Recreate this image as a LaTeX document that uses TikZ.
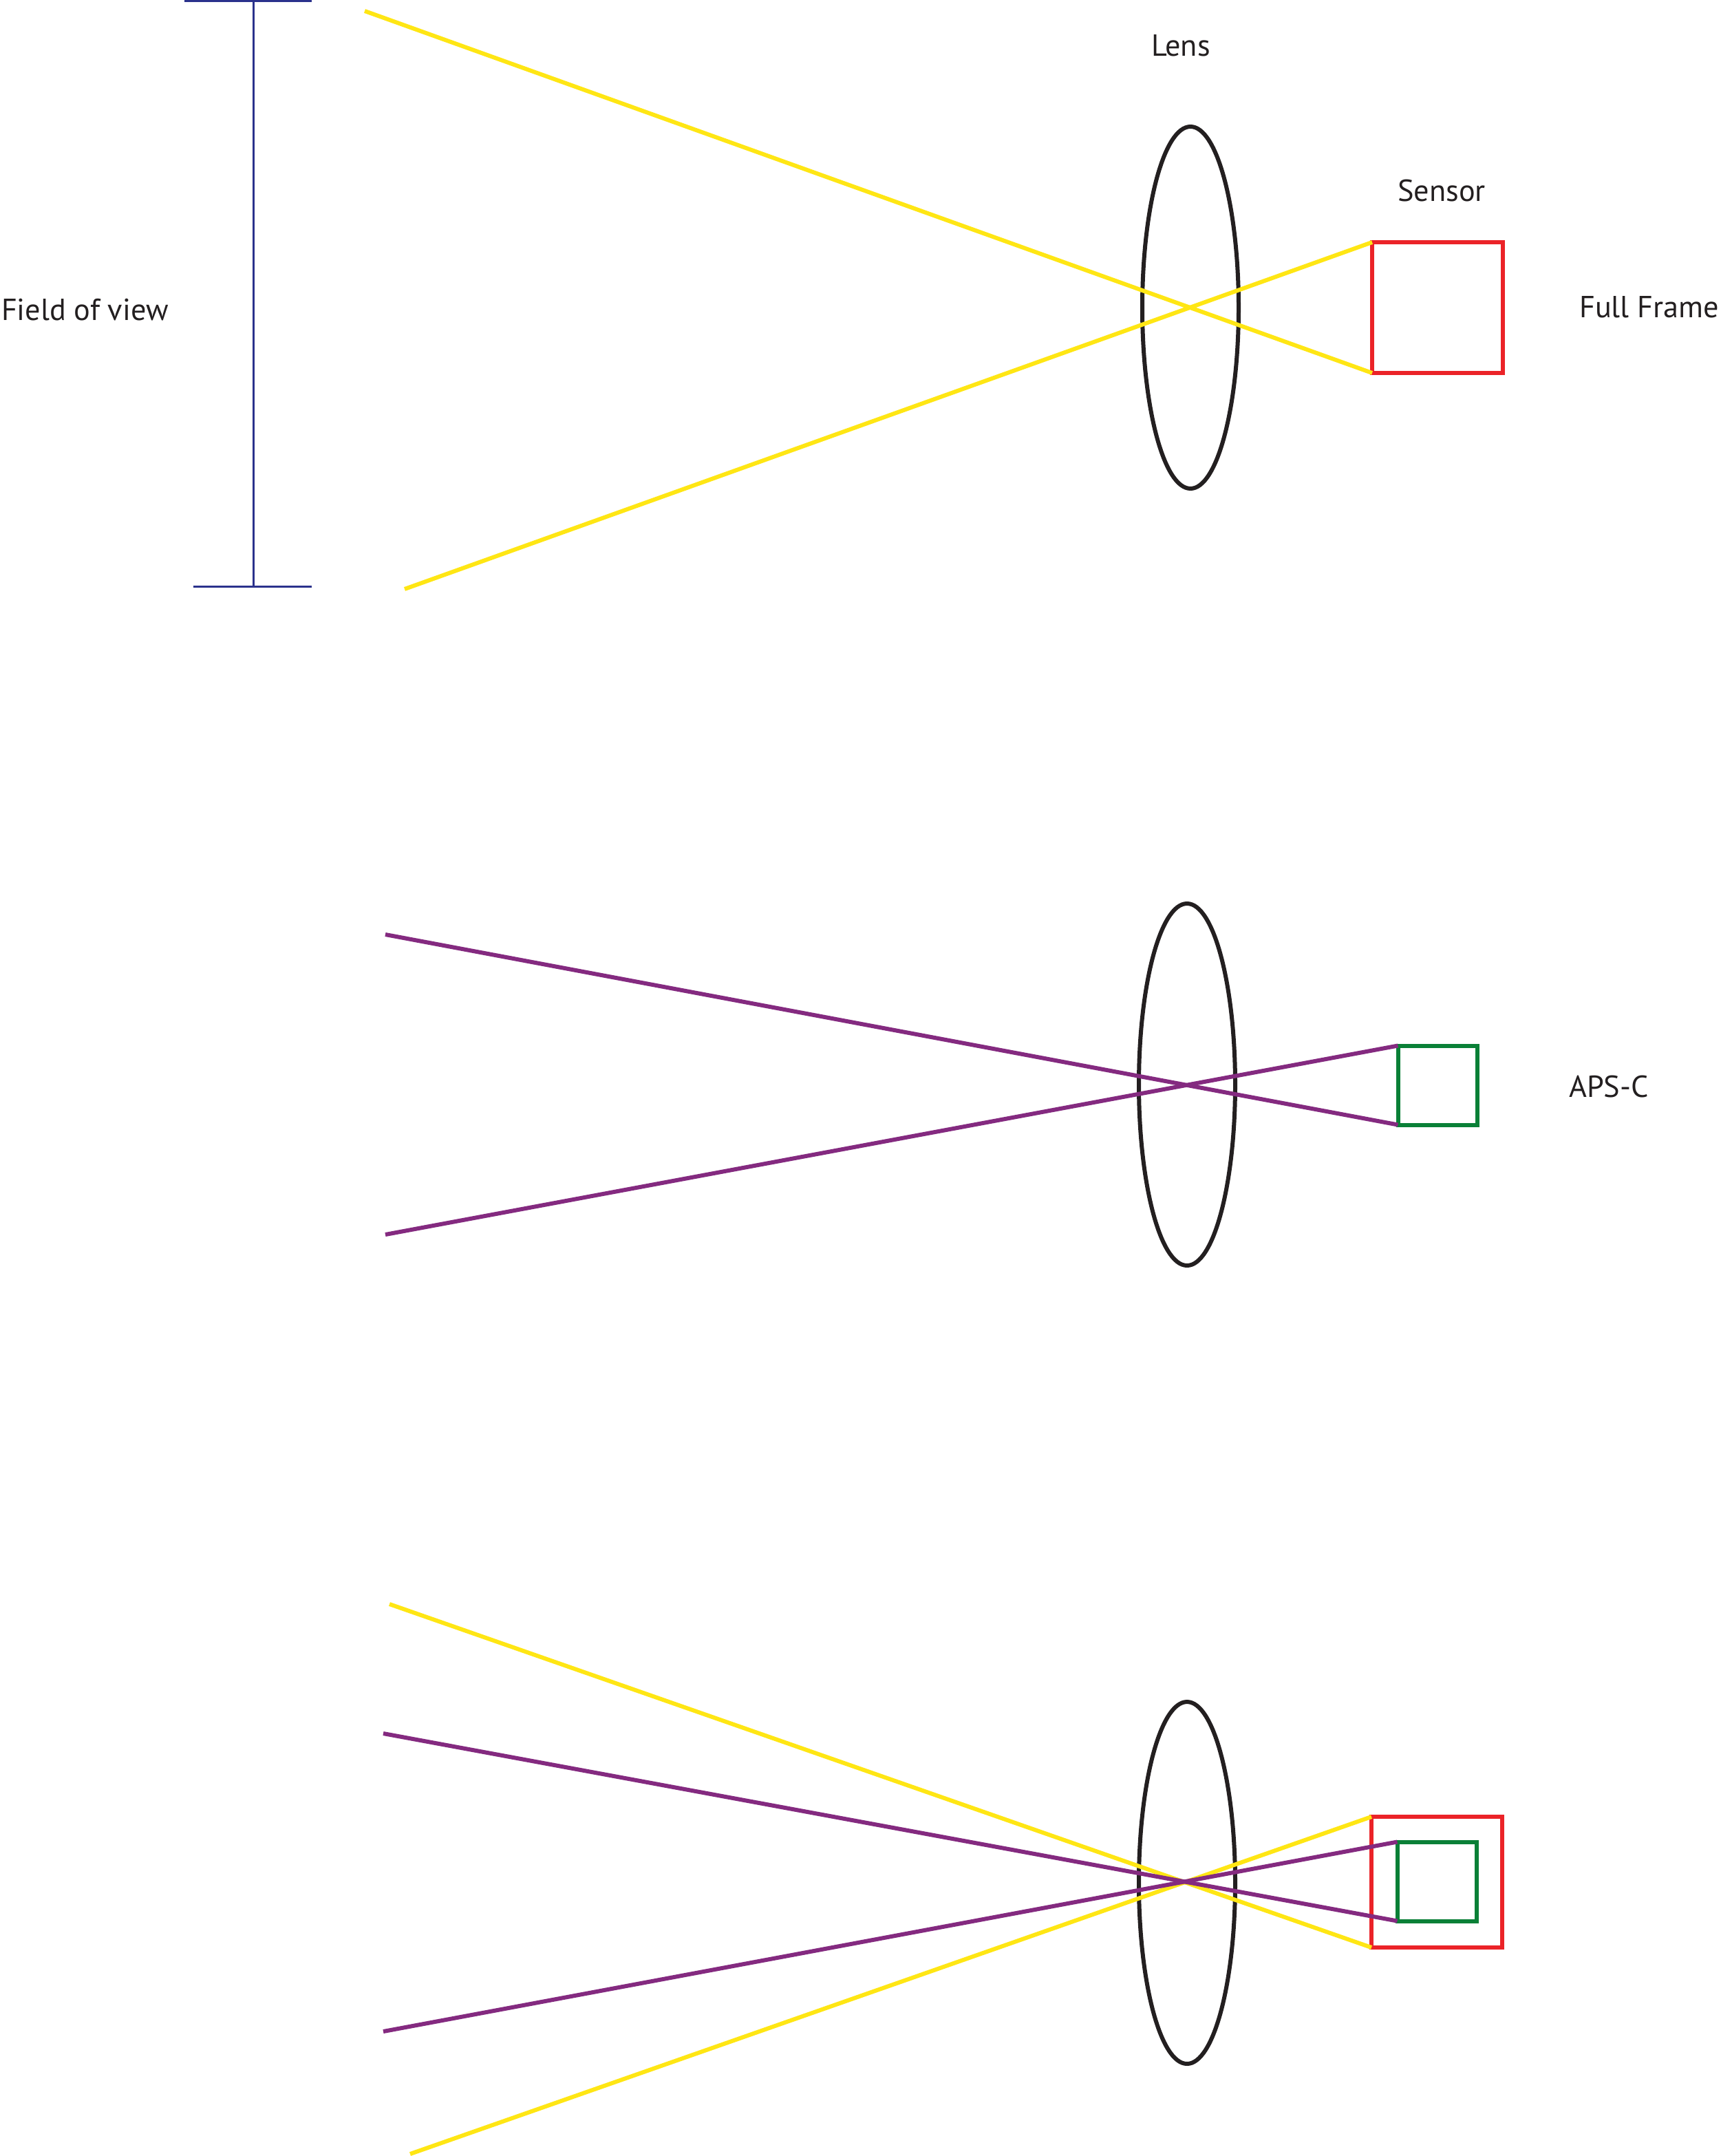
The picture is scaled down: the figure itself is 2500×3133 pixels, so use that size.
\documentclass[tikz,border=0pt]{standalone}
\usepackage{fontspec}
\setmainfont{PT Sans}
\usetikzlibrary{shapes.geometric}
\definecolor{rayyellow}{RGB}{255,230,20}
\definecolor{raypurple}{RGB}{132,42,128}
\definecolor{ffred}{RGB}{235,35,40}
\definecolor{apsgreen}{RGB}{10,128,55}
\definecolor{fovblue}{RGB}{43,50,140}
\definecolor{inkgray}{RGB}{35,31,32}
\tikzset{
  lensshape/.style={ellipse, draw=inkgray, line width=0.6mm, minimum width=14mm, minimum height=52.6mm, inner sep=0pt, outer sep=0pt},
  ffbox/.style={rectangle, draw=ffred, line width=0.6mm, minimum width=19mm, minimum height=19mm, inner sep=0pt, outer sep=0pt},
  apsbox/.style={rectangle, draw=apsgreen, line width=0.6mm, minimum width=11.5mm, minimum height=11.5mm, inner sep=0pt, outer sep=0pt},
  yray/.style={draw=rayyellow, line width=0.6mm},
  pray/.style={draw=raypurple, line width=0.6mm},
  fovbar/.style={draw=fovblue, line width=0.3mm},
  lbl/.style={text=inkgray, font=\fontsize{12.6pt}{15pt}\selectfont, inner sep=0pt, outer sep=0pt}
}
\begin{document}
\begin{tikzpicture}[x=0.1mm, y=-0.1mm]
\useasboundingbox (0,0) rectangle (2500,3133);

% ---------- Panel 1: full frame ----------
\coordinate (fovT) at (368,1.5);
\coordinate (fovB) at (368,852);
\coordinate (fovTL) at (268,1.5);
\coordinate (fovTR) at (453,1.5);
\coordinate (fovBL) at (281,852);
\coordinate (fovBR) at (453,852);
\draw[fovbar] (fovT) -- (fovB);
\draw[fovbar] (fovTL) -- (fovTR);
\draw[fovbar] (fovBL) -- (fovBR);
\node[lbl, anchor=base west] (fovlabel) at (2,466) {Field of view};

\node[lensshape] (lens1) at (1730,447) {};
\node[ffbox] (ff1) at (2089,447) {};
\coordinate (y1a) at (530,16);
\coordinate (y1b) at (588,856);
\draw[yray] (y1a) -- (ff1.south west);
\draw[yray] (y1b) -- (ff1.north west);

\node[lbl, anchor=base] (lenslabel) at (1716,82) {Lens};
\node[lbl, anchor=base] (sensorlabel) at (2095,293) {Sensor};
\node[lbl, anchor=base east] (fflabel) at (2498,462) {Full Frame};

% ---------- Panel 2: APS-C ----------
\node[lensshape] (lens2) at (1725,1576) {};
\node[apsbox] (aps2) at (2089,1577) {};
\coordinate (p2a) at (560,1358);
\coordinate (p2b) at (560,1794);
\draw[pray] (p2a) -- (aps2.south west);
\draw[pray] (p2b) -- (aps2.north west);
\node[lbl, anchor=base] (apslabel) at (2338,1594) {APS-C};

% ---------- Panel 3: comparison ----------
\node[lensshape] (lens3) at (1725,2736) {};
\node[ffbox] (ff3) at (2088,2735) {};
\node[apsbox] (aps3) at (2088,2734) {};
\coordinate (y3a) at (566,2331);
\coordinate (y3b) at (596,3130);
\coordinate (p3a) at (557,2519);
\coordinate (p3b) at (557,2952);
\draw[yray] (y3a) -- (ff3.south west);
\draw[yray] (y3b) -- (ff3.north west);
\draw[pray] (p3a) -- (aps3.south west);
\draw[pray] (p3b) -- (aps3.north west);
\end{tikzpicture}
\end{document}
